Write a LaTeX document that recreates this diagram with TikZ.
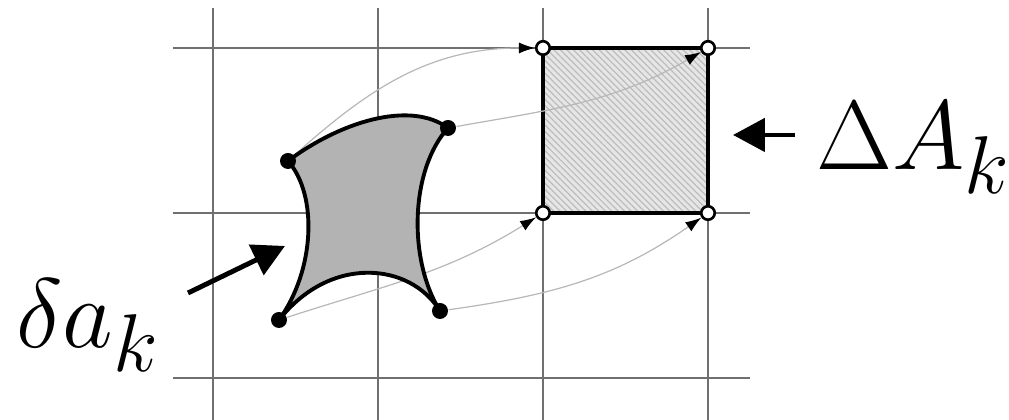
\documentclass[tikz,border=0pt]{standalone}
\usepackage{xcolor}
\definecolor{gridc}{HTML}{707070}
\definecolor{mapc}{HTML}{B8B8B8}
\definecolor{patchc}{HTML}{B3B3B3}
\definecolor{cellc}{HTML}{E6E6E6}
\definecolor{hatchc}{HTML}{BDBDBD}
\usetikzlibrary{arrows.meta,patterns.meta,backgrounds}
\tikzset{
  gridln/.style={draw=gridc,line width=0.45pt},
  mapln/.style={draw=mapc,line width=0.35pt,-{Latex[length=1.6mm,width=1.1mm,color=black]}},
  patch/.style={draw=black,line width=1.1pt,fill=patchc},
  cellbox/.style={draw=black,line width=1.1pt},
  fdot/.style={circle,fill=black,inner sep=0pt,minimum size=1.6mm},
  odot/.style={circle,draw=black,fill=white,line width=0.75pt,inner sep=0pt,minimum size=1.35mm},
  bigarr/.style={line width=1.4pt,-{Triangle[length=3.2mm,width=3.3mm]}},
  lbl/.style={font=\Huge,inner sep=0pt,anchor=base west},
}
\newcommand{\bigsym}[1]{\scalebox{1.125}{$#1$}}

\begin{document}
\begin{tikzpicture}
  \useasboundingbox (0,0) rectangle (10.09,4.20);
  % corners of the curved patch
  \node[fdot] (p1) at (2.88,2.59) {};
  \node[fdot] (p2) at (4.48,2.92) {};
  \node[fdot] (p3) at (2.79,1.00) {};
  \node[fdot] (p4) at (4.40,1.09) {};
  % corners of the grid cell
  \node[odot] (q1) at (5.43,3.72) {};
  \node[odot] (q2) at (7.08,3.72) {};
  \node[odot] (q3) at (5.43,2.07) {};
  \node[odot] (q4) at (7.08,2.07) {};
  \begin{scope}[on background layer]
    \foreach \x in {2.13,3.78,5.43,7.08} \draw[gridln] (\x,0) -- (\x,4.12);
    \foreach \y in {0.42,2.07,3.72} \draw[gridln] (1.73,\y) -- (7.50,\y);
    \fill[cellc] (q3.center) rectangle (q2.center);
    \fill[pattern={Lines[angle=-45,distance=1.3pt,line width=0.35pt]},pattern color=hatchc] (q3.center) rectangle (q2.center);
    \draw[cellbox] (q3.center) rectangle (q2.center);
    \draw[mapln] (p1) to[out=42,in=180] (q1);
    \draw[mapln] (p2) to[out=10,in=210] (q2);
    \draw[mapln] (p3) to[out=18,in=212] (q3);
    \draw[mapln] (p4) to[out=8,in=215] (q4);
    \draw[patch] (p1.center) .. controls (3.40,2.98) and (4.10,3.20) .. (p2.center)
      .. controls (4.10,2.50) and (4.08,1.60) .. (p4.center)
      .. controls (4.10,1.58) and (3.30,1.65) .. (p3.center)
      .. controls (3.15,1.50) and (3.18,2.25) .. (p1.center) -- cycle;
  \end{scope}
  % labels and pointers
  \node[lbl] (la) at (0.16,0.72) {\bigsym{\delta a_k}};
  \node[lbl] (lA) at (8.16,2.50) {\bigsym{\Delta A_k}};
  \coordinate (ta) at (1.88,1.27);
  \coordinate (ha) at (2.85,1.74);
  \coordinate (tA) at (7.95,2.85);
  \coordinate (hA) at (7.33,2.85);
  \draw[bigarr] (ta) -- (ha);
  \draw[bigarr] (tA) -- (hA);
\end{tikzpicture}
\end{document}
